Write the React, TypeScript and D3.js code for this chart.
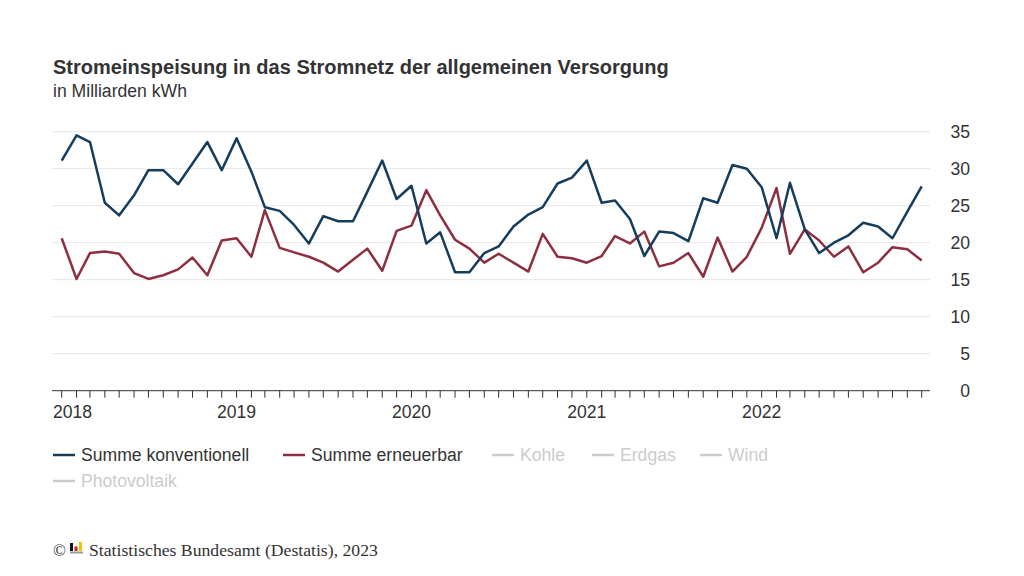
import React from "react";
import * as d3 from "d3";

const startYear = 2018;
const monthCount = 60;
const yearLabels = ["2018", "2019", "2020", "2021", "2022"];
const yTicks = [0, 5, 10, 15, 20, 25, 30, 35];

const konventionell = [
  31.1, 34.5, 33.6, 25.4, 23.7, 26.4, 29.8, 29.8, 27.9, 30.7, 33.6, 29.8,
  34.1, 29.6, 24.8, 24.3, 22.4, 19.9, 23.6, 22.9, 22.9, 26.9, 31.1, 25.9,
  27.7, 19.9, 21.4, 16.0, 16.0, 18.6, 19.5, 22.2, 23.8, 24.8, 28.0, 28.8,
  31.1, 25.4, 25.7, 23.2, 18.2, 21.5, 21.3, 20.2, 26.0, 25.4, 30.5, 30.0,
  27.5, 20.6, 28.1, 21.8, 18.6, 20.0, 21.0, 22.7, 22.2, 20.6, 24.2, 27.6,
];

const erneuerbar = [
  20.6, 15.1, 18.6, 18.8, 18.5, 15.9, 15.1, 15.6, 16.4, 18.0, 15.6, 20.3,
  20.6, 18.1, 24.4, 19.3, 18.7, 18.1, 17.3, 16.1, 17.7, 19.2, 16.2, 21.6,
  22.3, 27.1, 23.7, 20.4, 19.2, 17.3, 18.5, 17.3, 16.1, 21.2, 18.1, 17.9,
  17.3, 18.2, 20.9, 19.9, 21.5, 16.8, 17.3, 18.6, 15.4, 20.7, 16.1, 18.1,
  22.0, 27.4, 18.5, 21.8, 20.3, 18.1, 19.5, 16.0, 17.3, 19.4, 19.1, 17.6,
];

const legendRow1 = [
  { name: "Summe konventionell", color: "#173d5c", active: true },
  { name: "Summe erneuerbar", color: "#8e2f40", active: true },
  { name: "Kohle", color: "#cccccc", active: false },
  { name: "Erdgas", color: "#cccccc", active: false },
  { name: "Wind", color: "#cccccc", active: false },
];
const legendRow2 = [{ name: "Photovoltaik", color: "#cccccc", active: false }];

const title = "Stromeinspeisung in das Stromnetz der allgemeinen Versorgung";
const subtitle = "in Milliarden kWh";
const source = "Statistisches Bundesamt (Destatis), 2023";

const FONT = "'Liberation Sans', Arial, Helvetica, sans-serif";

export default function App() {
  const W = 1024;
  const H = 576;
  const plotLeft = 52;
  const plotRight = 930;
  const yTop = 131.7;
  const yBottom = 390.7;
  const fs = 17.6;

  const dates = d3.range(monthCount).map((i) => new Date(Date.UTC(startYear, i, 1)));
  const x = d3
    .scaleUtc()
    .domain([dates[0], dates[dates.length - 1]])
    .range([61.7, 921.7]);
  const y = d3.scaleLinear().domain([0, 35]).range([yBottom, yTop]);

  const line = d3
    .line<number>()
    .x((_, i) => x(dates[i]))
    .y((d) => y(d));

  const legendX = [53, 283, 492, 592, 700];
  const legendTextOffset = 28;

  return (
    <svg
      width={W}
      height={H}
      style={{ position: "absolute", left: 0, top: 0, background: "#fff" }}
      fontFamily={FONT}
    >
      <rect width={W} height={H} fill="#fff" />
      <text x={53} y={74} fontSize={20} fontWeight="bold" fill="#333">
        {title}
      </text>
      <text x={53} y={97} fontSize={fs} fill="#333">
        {subtitle}
      </text>

      {/* grid */}
      {yTicks
        .filter((t) => t > 0)
        .map((t) => (
          <line
            key={t}
            x1={plotLeft}
            x2={plotRight}
            y1={y(t)}
            y2={y(t)}
            stroke="#e6e6e6"
            strokeWidth={1}
          />
        ))}
      {yTicks.map((t) => (
        <text
          key={"yl" + t}
          x={970}
          y={y(t)}
          dy="0.35em"
          textAnchor="end"
          fontSize={fs}
          fill="#333"
        >
          {t}
        </text>
      ))}

      {/* x axis */}
      <line x1={plotLeft} x2={plotRight} y1={yBottom} y2={yBottom} stroke="#333" strokeWidth={1} />
      {dates.map((d, i) => (
        <line
          key={"t" + i}
          x1={x(d)}
          x2={x(d)}
          y1={yBottom}
          y2={yBottom + 7}
          stroke="#333"
          strokeWidth={1}
        />
      ))}
      {yearLabels.map((lab, i) => {
        const px = x(new Date(Date.UTC(startYear + i, 0, 1)));
        const first = i === 0;
        return (
          <text
            key={lab}
            x={first ? 53 : px}
            y={418}
            textAnchor={first ? "start" : "middle"}
            fontSize={fs}
            fill="#333"
          >
            {lab}
          </text>
        );
      })}

      {/* lines */}
      <path d={line(erneuerbar) || ""} fill="none" stroke="#8e2f40" strokeWidth={2.5} strokeLinejoin="round" />
      <path d={line(konventionell) || ""} fill="none" stroke="#173d5c" strokeWidth={2.5} strokeLinejoin="round" />

      {/* legend */}
      {legendRow1.map((item, i) => (
        <g key={item.name}>
          <line
            x1={legendX[i]}
            x2={legendX[i] + 22}
            y1={455}
            y2={455}
            stroke={item.color}
            strokeWidth={2.5}
          />
          <text
            x={legendX[i] + legendTextOffset}
            y={460.5}
            fontSize={fs}
            fill={item.active ? "#333" : "#cccccc"}
          >
            {item.name}
          </text>
        </g>
      ))}
      {legendRow2.map((item) => (
        <g key={item.name}>
          <line x1={53} x2={75} y1={481} y2={481} stroke={item.color} strokeWidth={2.5} />
          <text x={81} y={486.5} fontSize={fs} fill="#cccccc">
            {item.name}
          </text>
        </g>
      ))}

      {/* footer */}
      <g fontFamily="'Liberation Serif', 'Times New Roman', serif">
        <text x={53} y={556} fontSize={17} fill="#333">
          ©
        </text>
        <rect x={70} y={543} width={3} height={8} fill="#111" />
        <rect x={74.5} y={546.5} width={3} height={4.5} fill="#d0202a" />
        <rect x={79} y={542} width={3} height={9} fill="#f5c400" />
        <rect x={70} y={551.5} width={13} height={2} fill="#9a9a9a" />
        <text x={89} y={556} fontSize={17.7} fill="#333">
          {source}
        </text>
      </g>
    </svg>
  );
}
